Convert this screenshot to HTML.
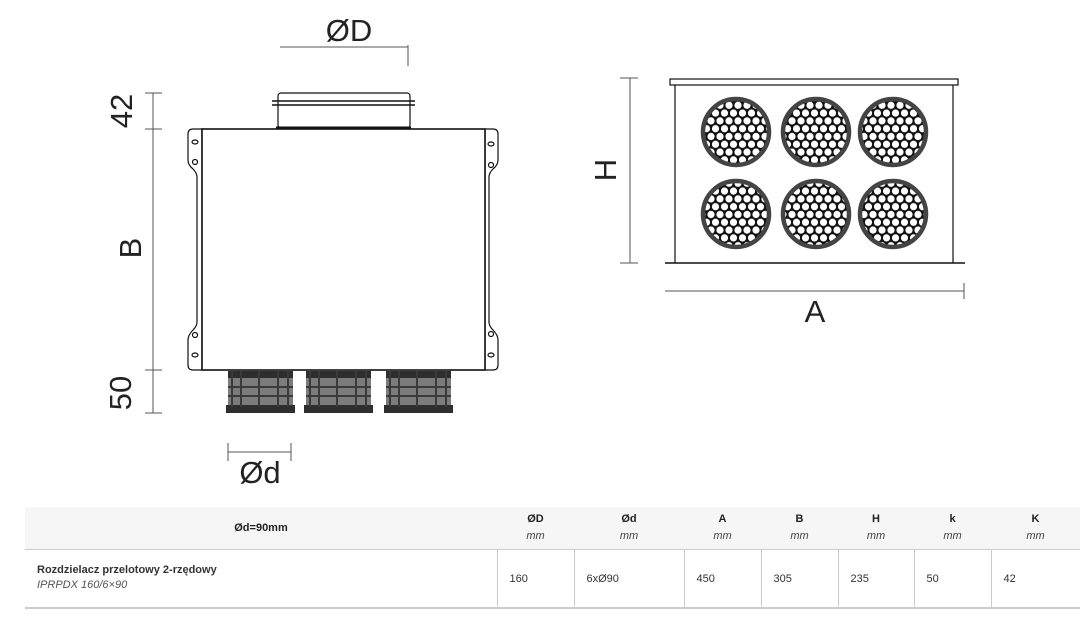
<!DOCTYPE html>
<html><head><meta charset="utf-8"><style>
body{margin:0;width:1091px;height:628px;background:#fff;overflow:hidden;font-family:"Liberation Sans",sans-serif;position:relative}
svg{position:absolute;left:0;top:0}
table{position:absolute;left:25px;top:507px;width:1055px;border-collapse:collapse;font-size:11px;color:#222}
th{background:#f6f6f6;height:42px;font-weight:bold;text-align:center;line-height:17px;padding:0}
th i{font-weight:normal;color:#444}
td{height:57px;border-top:1px solid #ccc;border-bottom:2px solid #ccc;padding:0 0 0 12px;color:#333}
td+td{border-left:1px solid #ccc}
</style></head><body>
<svg width="1091" height="500" viewBox="0 0 1091 500">
<defs>
<pattern id="hex" width="9" height="15.6" patternUnits="userSpaceOnUse">
<rect width="9" height="15.6" fill="#111"/>
<circle cx="4.5" cy="3.9" r="3.6" fill="#fff"/>
<circle cx="0" cy="11.7" r="3.6" fill="#fff"/>
<circle cx="9" cy="11.7" r="3.6" fill="#fff"/>
</pattern>
</defs>
<g stroke="#555" stroke-width="1" fill="none">
<line x1="153" y1="93" x2="153" y2="413"/>
<line x1="145" y1="93" x2="162" y2="93"/>
<line x1="145" y1="129" x2="162" y2="129"/>
<line x1="145" y1="370" x2="162" y2="370"/>
<line x1="145" y1="413" x2="162" y2="413"/>
<line x1="280" y1="47" x2="408" y2="47"/>
<line x1="408" y1="45" x2="408" y2="66"/>
<line x1="228" y1="452" x2="291" y2="452"/>
<line x1="228" y1="443" x2="228" y2="461"/>
<line x1="291" y1="443" x2="291" y2="461"/>
<line x1="630" y1="78" x2="630" y2="263"/>
<line x1="620" y1="78" x2="638" y2="78"/>
<line x1="620" y1="263" x2="638" y2="263"/>
<line x1="665" y1="291" x2="964" y2="291"/>
<line x1="964" y1="283" x2="964" y2="299"/>
</g>
<g font-size="31" fill="#222" text-anchor="middle">
<text x="124" y="111" transform="rotate(-90 124 111)" dominant-baseline="middle">42</text>
<text x="133" y="248" transform="rotate(-90 133 248)" dominant-baseline="middle">B</text>
<text x="123" y="393" transform="rotate(-90 123 393)" dominant-baseline="middle">50</text>
<text x="349" y="41">ØD</text>
<text x="260" y="483">Ød</text>
<text x="608" y="170" transform="rotate(-90 608 170)" dominant-baseline="middle">H</text>
<text x="815" y="322">A</text>
</g>
<g stroke="#111" fill="#fff" stroke-width="1.2">
<path d="M193 129 H202 V370 H193 Q188 370 188 365 V340 Q188 335 193 330 Q197 326 197 322 V177 Q197 173 193 169 Q188 165 188 160 V134 Q188 129 193 129Z"/>
<path d="M493 129 H485 V370 H493 Q498 370 498 365 V340 Q498 335 493 330 Q489 326 489 322 V177 Q489 173 493 169 Q498 165 498 160 V134 Q498 129 493 129Z"/>
<rect x="202" y="129" width="283" height="241" stroke-width="1.6"/>
<rect x="278" y="93" width="132" height="35" rx="3"/>
<ellipse cx="195" cy="142" rx="3" ry="2"/><circle cx="195" cy="162" r="2.5"/>
<circle cx="195" cy="335" r="2.5"/><ellipse cx="195" cy="355" rx="3" ry="2"/>
<ellipse cx="491" cy="144" rx="3" ry="2"/><circle cx="491" cy="165" r="2.5"/>
<circle cx="491" cy="334" r="2.5"/><ellipse cx="491" cy="355" rx="3" ry="2"/>
</g>
<line x1="272" y1="101" x2="415" y2="101" stroke="#111" stroke-width="1.5"/>
<line x1="272" y1="105" x2="415" y2="105" stroke="#111" stroke-width="1.5"/>
<line x1="276" y1="128" x2="411" y2="128" stroke="#111" stroke-width="3"/>
<g>
<g id="o1">
<rect x="228" y="371" width="65" height="38" fill="#7c7c7c"/>
<rect x="228" y="371" width="65" height="7" fill="#2e2e2e"/>
<rect x="226" y="405" width="69" height="8" fill="#2e2e2e"/>
<g fill="#3a3a3a"><rect x="231" y="371" width="2" height="36"/><rect x="240" y="371" width="2" height="36"/><rect x="258" y="371" width="2" height="36"/><rect x="277" y="371" width="2" height="36"/><rect x="287" y="371" width="2" height="36"/>
<rect x="228" y="386" width="65" height="2"/><rect x="228" y="395" width="65" height="2"/></g>
</g>
<use href="#o1" x="78"/>
<use href="#o1" x="158"/>
</g>
<g stroke="#111" fill="#fff" stroke-width="1.2">
<rect x="670" y="79" width="288" height="6"/>
<line x1="675" y1="85" x2="675" y2="263"/>
<line x1="953" y1="85" x2="953" y2="263"/>
</g>
<line x1="665" y1="263" x2="965" y2="263" stroke="#111" stroke-width="1.6"/>
<g stroke="#444" stroke-width="4.5" fill="url(#hex)">
<circle cx="736" cy="132" r="33"/><circle cx="816" cy="132" r="33"/><circle cx="893" cy="132" r="33"/>
<circle cx="736" cy="214" r="33"/><circle cx="816" cy="214" r="33"/><circle cx="893" cy="214" r="33"/>
</g>
</svg>
<table>
<tr><th style="width:472px">Ød=90mm</th><th style="width:77px">ØD<br><i>mm</i></th><th style="width:110px">Ød<br><i>mm</i></th><th style="width:77px">A<br><i>mm</i></th><th style="width:77px">B<br><i>mm</i></th><th style="width:76px">H<br><i>mm</i></th><th style="width:77px">k<br><i>mm</i></th><th>K<br><i>mm</i></th></tr>
<tr><td><b>Rozdzielacz przelotowy 2-rzędowy</b><br><i style="color:#555;line-height:18px">IPRPDX 160/6×90</i></td><td>160</td><td>6xØ90</td><td>450</td><td>305</td><td>235</td><td>50</td><td>42</td></tr>
</table>
</body></html>
